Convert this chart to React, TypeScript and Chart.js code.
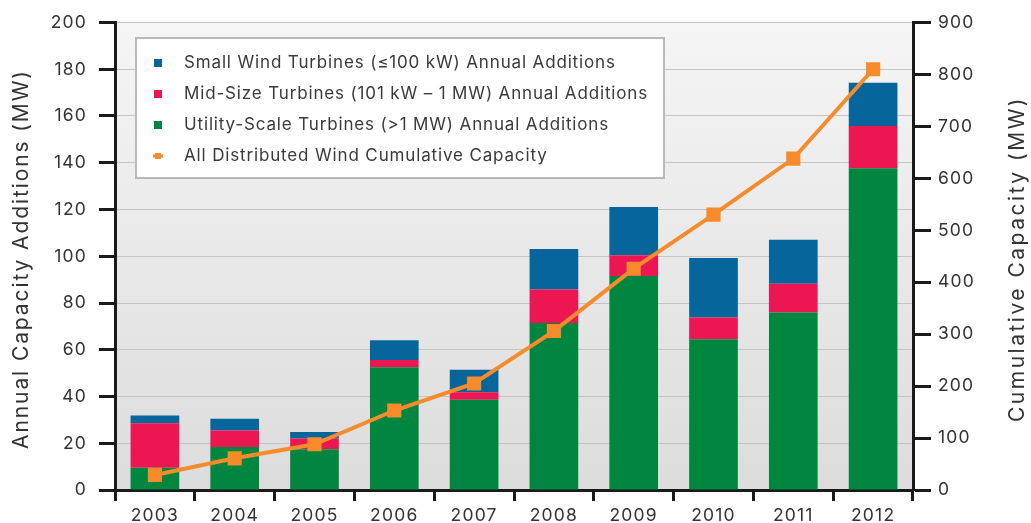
import React, { useEffect, useRef } from 'react';
import { Chart, registerables } from 'chart.js';
Chart.register(...registerables);

const years = ['2003', '2004', '2005', '2006', '2007', '2008', '2009', '2010', '2011', '2012'];
const utilityScale = [9.5, 18.4, 17.4, 52.5, 38.6, 71.4, 91.5, 64.5, 75.9, 137.6];
const midSize = [19.1, 7.1, 4.6, 3.1, 3.2, 14.4, 8.9, 9.3, 12.3, 18.1];
const smallWind = [3.3, 5.0, 2.8, 8.5, 9.6, 17.3, 20.7, 25.5, 18.9, 18.5];
const cumulative = [29, 61, 88, 153, 205, 306, 426, 530, 638, 810];

const legendLabels = [
  'Small Wind Turbines (\u2264100 kW) Annual Additions',
  'Mid-Size Turbines (101 kW \u2013 1 MW) Annual Additions',
  'Utility-Scale Turbines (>1 MW) Annual Additions',
  'All Distributed Wind Cumulative Capacity',
];
const leftTitle = 'Annual Capacity Additions (MW)';
const rightTitle = 'Cumulative Capacity (MW)';

const BLUE = '#06659a';
const RED = '#ec1653';
const GREEN = '#00863f';
const ORANGE = '#f68b2b';
const FONT = 'Inter';
const TICK_SPACING = '1.2px';

const spacingPlugin = {
  id: 'spacing',
  beforeLayout(chart: any) { chart.ctx.letterSpacing = TICK_SPACING; },
  beforeDraw(chart: any) { chart.ctx.letterSpacing = TICK_SPACING; },
};

const bgPlugin = {
  id: 'plotBg',
  beforeDraw(chart: any) {
    const { ctx, chartArea } = chart;
    const g = ctx.createLinearGradient(0, chartArea.top, 0, chartArea.bottom);
    g.addColorStop(0, '#f5f5f5');
    g.addColorStop(1, '#dcdcdc');
    ctx.save();
    ctx.fillStyle = g;
    ctx.fillRect(chartArea.left, chartArea.top, chartArea.right - chartArea.left, chartArea.bottom - chartArea.top);
    ctx.restore();
  },
};

const decorPlugin = {
  id: 'decor',
  afterDraw(chart: any) {
    const { ctx, chartArea } = chart;
    const x0 = chartArea.left + 21;
    const y0 = 38;
    const w = 528;
    const h = 140;
    ctx.save();
    ctx.fillStyle = '#ffffff';
    ctx.strokeStyle = '#b8b8b8';
    ctx.lineWidth = 2;
    ctx.fillRect(x0, y0, w, h);
    ctx.strokeRect(x0, y0, w, h);
    const colors = [BLUE, RED, GREEN, ORANGE];
    ctx.font = `17px ${FONT}`;
    ctx.letterSpacing = '0.85px';
    ctx.textBaseline = 'middle';
    ctx.textAlign = 'left';
    legendLabels.forEach((lab, i) => {
      const cy = y0 + 25 + i * 31;
      const cx = x0 + 22;
      ctx.fillStyle = colors[i];
      if (i < 3) {
        ctx.fillRect(cx - 4, cy - 4, 8, 8);
      } else {
        ctx.fillRect(cx - 5, cy - 1.5, 10, 3);
        ctx.fillRect(cx - 3, cy - 3, 6, 6);
      }
      ctx.fillStyle = '#3a3a3a';
      ctx.fillText(lab, x0 + 48, cy);
    });
    ctx.font = `21px ${FONT}`;
    ctx.letterSpacing = '1.9px';
    ctx.fillStyle = '#333333';
    ctx.textAlign = 'center';
    const cyMid = 259;
    ctx.save();
    ctx.translate(22, cyMid);
    ctx.rotate(-Math.PI / 2);
    ctx.fillText(leftTitle, 0, 0);
    ctx.restore();
    ctx.save();
    ctx.translate(1018, cyMid);
    ctx.rotate(-Math.PI / 2);
    ctx.letterSpacing = '2.5px';
    ctx.fillText(rightTitle, 0, 0);
    ctx.restore();
    ctx.restore();
  },
};

export default function App() {
  const ref = useRef<HTMLCanvasElement>(null);
  useEffect(() => {
    if (!ref.current) return;
    const chart = new Chart(ref.current, {
      type: 'bar',
      data: {
        labels: years,
        datasets: [
          { label: legendLabels[2], data: utilityScale, backgroundColor: GREEN, stack: 's', order: 2, yAxisID: 'y' },
          { label: legendLabels[1], data: midSize, backgroundColor: RED, stack: 's', order: 2, yAxisID: 'y' },
          { label: legendLabels[0], data: smallWind, backgroundColor: BLUE, stack: 's', order: 2, yAxisID: 'y' },
          {
            type: 'line',
            label: legendLabels[3],
            data: cumulative,
            borderColor: ORANGE,
            backgroundColor: ORANGE,
            borderWidth: 4,
            pointStyle: 'rect',
            pointRadius: 10,
            pointHoverRadius: 10,
            pointBorderWidth: 0,
            yAxisID: 'y1',
            order: 0,
          } as any,
        ],
      },
      plugins: [spacingPlugin, bgPlugin, decorPlugin],
      options: {
        animation: false,
        responsive: true,
        maintainAspectRatio: false,
        layout: { padding: { top: 18, left: 0, right: 0, bottom: 0 } },
        datasets: { bar: { categoryPercentage: 1, barPercentage: 0.61 } } as any,
        plugins: { legend: { display: false }, tooltip: { enabled: false } },
        scales: {
          x: {
            stacked: true,
            offset: true,
            grid: { drawOnChartArea: false, drawTicks: true, tickLength: 11, tickColor: '#1a1a1a', tickWidth: 3, offset: true },
            border: { display: true, color: '#1a1a1a', width: 3 },
            ticks: { color: '#333', font: { family: FONT, size: 17.5 }, padding: 4 },
            afterFit(scale: any) { scale.height = 33; },
          },
          y: {
            stacked: true,
            position: 'left',
            min: 0,
            max: 200,
            ticks: { stepSize: 20, color: '#333', font: { family: FONT, size: 17.5 }, padding: 12 },
            grid: { color: '#c4c4c4', lineWidth: 1, tickColor: '#1a1a1a', tickWidth: 3, tickLength: 16 },
            border: { display: true, color: '#1a1a1a', width: 3 },
            afterFit(scale: any) { scale.width = 115; },
          },
          y1: {
            position: 'right',
            min: 0,
            max: 900,
            ticks: { stepSize: 100, color: '#333', font: { family: FONT, size: 17.5 }, padding: 7 },
            grid: { drawOnChartArea: false, tickColor: '#1a1a1a', tickWidth: 3, tickLength: 18 },
            border: { display: true, color: '#1a1a1a', width: 3 },
            afterFit(scale: any) { scale.width = 118; },
          },
        },
      } as any,
    });
    return () => chart.destroy();
  }, []);
  return (
    <div style={{ position: 'fixed', left: 0, top: 0, width: 1031, height: 523, background: '#fff' }}>
      <canvas ref={ref} />
    </div>
  );
}
